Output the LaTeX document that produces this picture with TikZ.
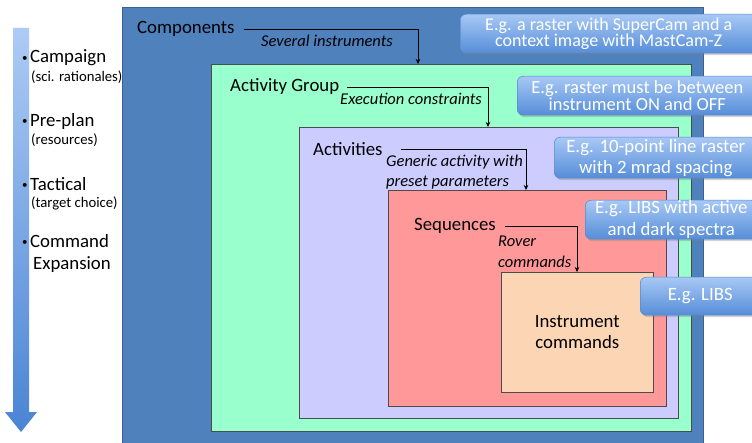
\documentclass[tikz,border=0pt]{standalone}
\usepackage{fontspec}
\setmainfont{Carlito}
\usetikzlibrary{shadows,arrows.meta,calc}
\definecolor{compblue}{HTML}{4F81BD}
\definecolor{grpgreen}{HTML}{99FFCC}
\definecolor{actpurple}{HTML}{CCCCFF}
\definecolor{seqred}{HTML}{FF9999}
\definecolor{inspeach}{HTML}{FCD5B4}
\definecolor{calltop}{HTML}{A7C8F5}
\definecolor{callbot}{HTML}{568DD8}
\definecolor{calledge}{HTML}{5A88CC}
\definecolor{arrtop}{HTML}{ADCBF5}
\definecolor{arrbot}{HTML}{4A84D4}
\newcommand{\smallbul}{\raisebox{1.5pt}{\fontsize{11}{11}\selectfont•}\hspace{2.5pt}}
\tikzset{
  box/.style={draw=black!70, line width=0.6pt, anchor=north west, inner sep=0pt},
  lbl/.style={font=\fontsize{18.8}{21}\selectfont, inner sep=0pt, anchor=west},
  ital/.style={font=\fontsize{16.5}{19}\selectfont\itshape, inner sep=0pt, anchor=north west, align=left},
  conn/.style={draw=black, line width=0.6pt, -{Stealth[length=5pt,width=4.5pt]}},
  callout/.style={rounded corners=6pt, draw=calledge, line width=0.5pt, top color=calltop, bottom color=callbot,
    text=white, align=center, anchor=north west, inner sep=0pt,
    drop shadow={opacity=0.35, shadow xshift=1.5pt, shadow yshift=-2pt}},
  bul/.style={font=\fontsize{18.8}{21}\selectfont, inner sep=0pt, anchor=west, align=left},
  sub/.style={font=\fontsize{14.7}{16}\selectfont, inner sep=0pt, anchor=west},
}
\begin{document}
\begin{tikzpicture}[x=1pt,y=-1pt]
\useasboundingbox (0,0) rectangle (752,443);
\fill[white] (0,0) rectangle (752,443);

% left arrow
\path[top color=arrtop, bottom color=arrbot, draw=none]
  (13,28) -- (29,28) -- (29,412) -- (37,412) -- (21,432) -- (5,412) -- (13,412) -- cycle;

% left labels
\node[bul] (b1) at (22,58) {\smallbul Campaign};
\node[sub] (s1) at (31,77) {(sci. rationales)};
\node[bul] (b2) at (22,121) {\smallbul Pre-plan};
\node[sub] (s2) at (31,140) {(resources)};
\node[bul] (b3) at (22,184) {\smallbul Tactical};
\node[sub] (s3) at (31,203) {(target choice)};
\node[bul] (b4) at (22,241) {\smallbul Command};
\node[bul] (b5) at (33,265) {Expansion};

% nested boxes
\node[box, fill=compblue, draw=compblue!75!black, minimum width=581pt, minimum height=445pt] (comp) at (122,7) {};
\node[box, fill=grpgreen, minimum width=480pt, minimum height=367pt] (grp) at (211,64) {};
\node[box, fill=actpurple, minimum width=379pt, minimum height=291pt] (act) at (299,127) {};
\node[box, fill=seqred, minimum width=278pt, minimum height=216pt] (seq) at (388,190) {};
\node[box, fill=inspeach, minimum width=152pt, minimum height=120pt, align=center,
  font=\fontsize{18.8}{21}\selectfont] (ins) at (501,272) {Instrument\\commands};

% level labels
\node[lbl] (lc) at (137,29) {Components};
\node[lbl] (lg) at (230,87) {Activity Group};
\node[lbl] (la) at (313,149) {Activities};
\node[lbl] (ls) at (414,226) {Sequences};

% connector targets
\coordinate (tc) at (418,64);
\coordinate (tg) at (488,127);
\coordinate (ta) at (526,190);
\coordinate (ts) at (577,272);

\draw[conn] ([xshift=9pt]lc.east) -| (tc);
\draw[conn] ([xshift=8pt]lg.east) -| (tg);
\draw[conn] ([xshift=18pt]la.east) -| (ta);
\draw[conn] ([xshift=9pt]ls.east) -| (ts);

% italic labels
\node[ital] (ic) at (261,35) {Several instruments};
\node[ital] (ig) at (340,93) {Execution constraints};
\node[ital, font=\fontsize{16.5}{19.5}\selectfont\itshape] (ia) at (386,155) {Generic activity with\\preset parameters};
\node[ital, font=\fontsize{16.5}{21}\selectfont\itshape] (is) at (498,236) {Rover\\commands};

% callouts
\node[callout, minimum width=297pt, minimum height=39pt, font=\fontsize{18}{16}\selectfont] (c1) at (460,14)
  {E.g. a raster with SuperCam and a\\context image with MastCam-Z};
\node[callout, minimum width=240pt, minimum height=39pt, font=\fontsize{18.5}{14.5}\selectfont] (c2) at (517,76)
  {E.g. raster must be between\\instrument ON and OFF};
\node[callout, minimum width=203pt, minimum height=41pt, font=\fontsize{18.8}{21}\selectfont] (c3) at (554,137)
  {E.g. 10-point line raster\\with 2 mrad spacing};
\node[callout, minimum width=172pt, minimum height=39pt, font=\fontsize{18.8}{22}\selectfont] (c4) at (585,200)
  {E.g. LIBS with active\\and dark spectra};
\node[callout, minimum width=120pt, minimum height=38pt, font=\fontsize{18.8}{21}\selectfont] (c5) at (640,277)
  {E.g. LIBS};
\end{tikzpicture}
\end{document}
